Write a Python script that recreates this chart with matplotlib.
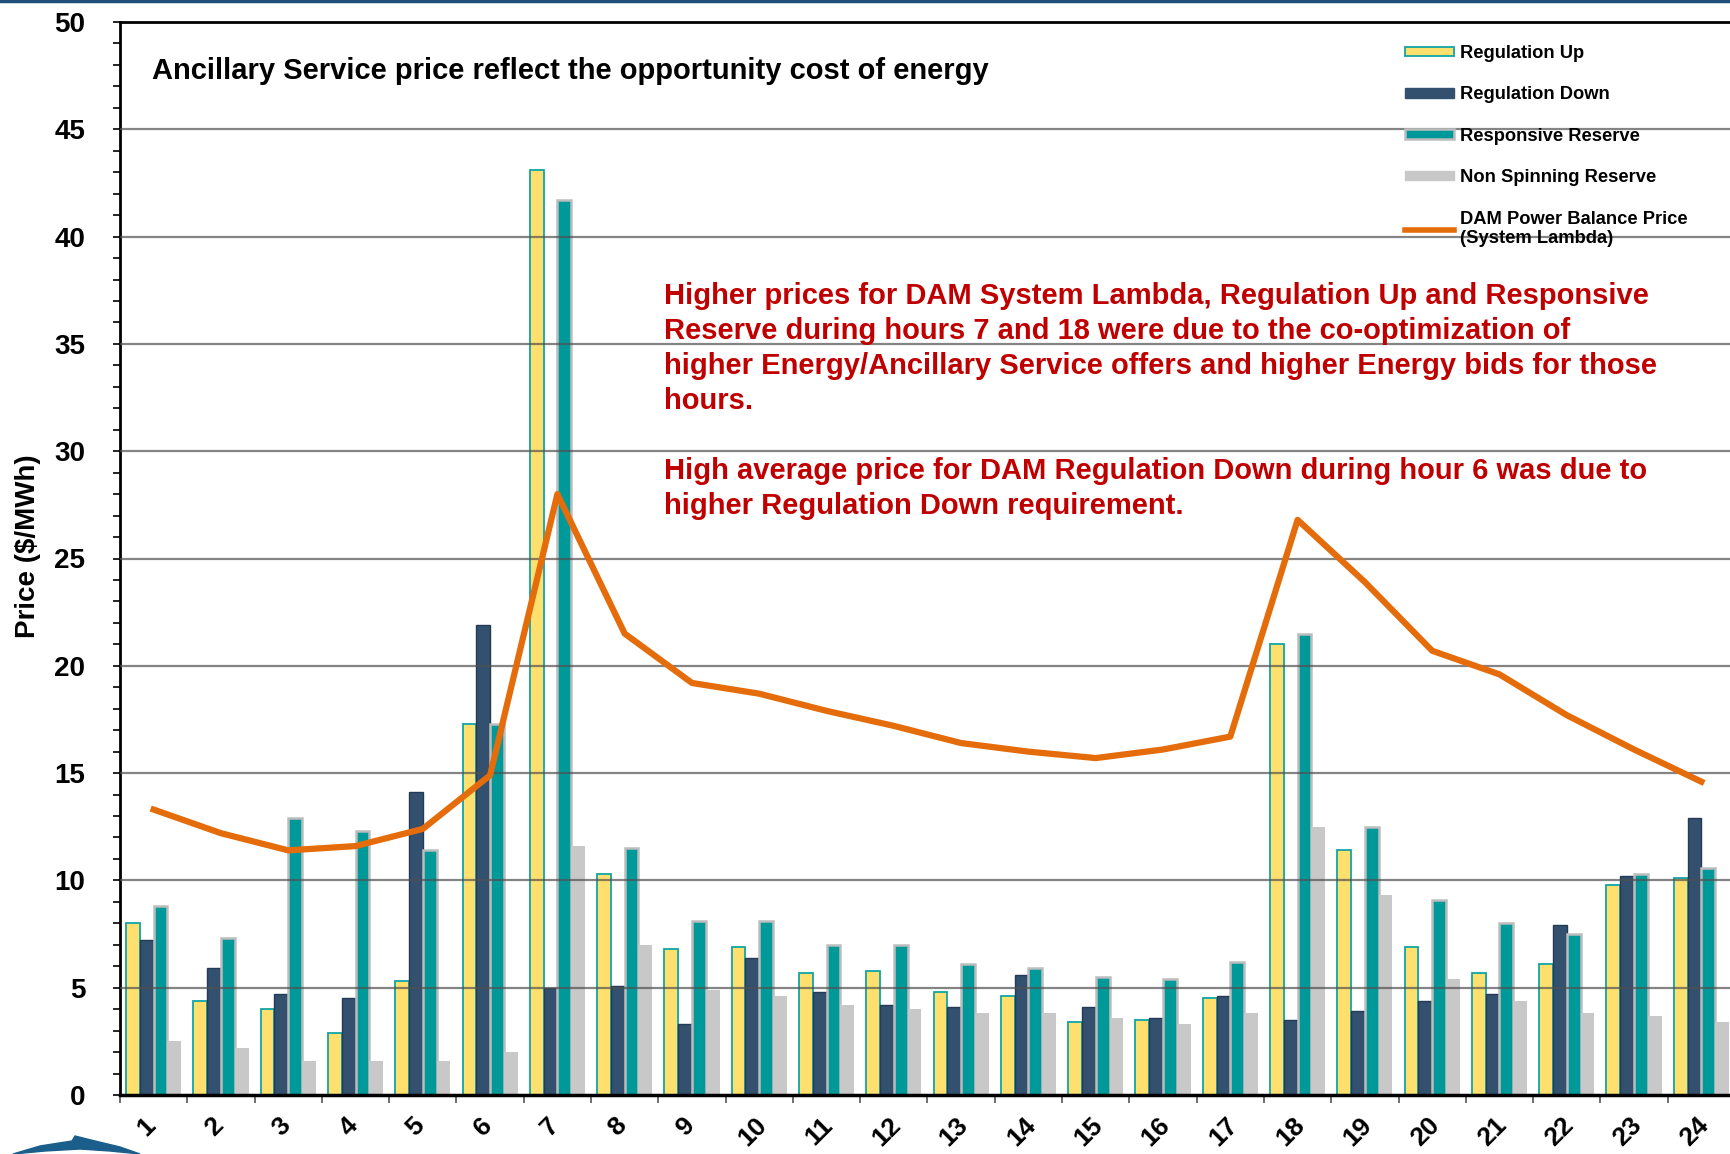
import numpy as np
import matplotlib
matplotlib.use('Agg')
import matplotlib.pyplot as plt
from matplotlib.ticker import MultipleLocator, FixedLocator
from matplotlib.lines import Line2D
from matplotlib.patches import Patch, Polygon
from matplotlib.transforms import ScaledTranslation

plt.rcParams['font.family'] = ['Liberation Sans', 'DejaVu Sans']
plt.rcParams['font.weight'] = 'bold'

hours = list(range(1, 25))
reg_up = [8.0, 4.4, 4.0, 2.9, 5.3, 17.3, 43.1, 10.3, 6.8, 6.9, 5.7, 5.8,
          4.8, 4.6, 3.4, 3.5, 4.5, 21.0, 11.4, 6.9, 5.7, 6.1, 9.8, 10.1]
reg_down = [7.2, 5.9, 4.7, 4.5, 14.1, 21.9, 5.0, 5.1, 3.3, 6.4, 4.8, 4.2,
            4.1, 5.6, 4.1, 3.6, 4.6, 3.5, 3.9, 4.4, 4.7, 7.9, 10.2, 12.9]
resp_res = [8.8, 7.3, 12.9, 12.3, 11.4, 17.3, 41.7, 11.5, 8.1, 8.1, 7.0, 7.0,
            6.1, 5.9, 5.5, 5.4, 6.2, 21.5, 12.5, 9.1, 8.0, 7.5, 10.3, 10.6]
non_spin = [2.5, 2.2, 1.6, 1.6, 1.6, 2.0, 11.6, 7.0, 4.9, 4.6, 4.2, 4.0,
            3.8, 3.8, 3.6, 3.3, 3.8, 12.5, 9.3, 5.4, 4.4, 3.8, 3.7, 3.4]
sys_lambda = [13.3, 12.2, 11.4, 11.6, 12.4, 14.9, 28.0, 21.5, 19.2, 18.7, 17.9, 17.2,
              16.4, 16.0, 15.7, 16.1, 16.7, 26.8, 23.9, 20.7, 19.6, 17.7, 16.1, 14.6]

labels = ["Regulation Up", "Regulation Down", "Responsive Reserve",
          "Non Spinning Reserve", "DAM Power Balance Price\n(System Lambda)"]

yellow, navy, teal, grey = '#FFE06E', '#33506F', '#009999', '#C8C8C8'
orange = '#E46C0A'

W, H = 1731, 1154
fig = plt.figure(figsize=(W/100, H/100), dpi=100)
ax = fig.add_axes([120/W, 59/H, 1615/W, 1073/H])

x = np.arange(len(hours))
w = 0.205
ax.bar(x - 1.5*w, reg_up, w, color=yellow, edgecolor='#10A5A5', linewidth=1.3, zorder=2)
ax.bar(x - 0.5*w, reg_down, w, color=navy, edgecolor='#243B56', linewidth=1.0, zorder=2)
ax.bar(x + 0.5*w, resp_res, w, color=teal, edgecolor='#BDBDBD', linewidth=1.8, zorder=2)
ax.bar(x + 1.5*w, non_spin, w, color=grey, linewidth=0, zorder=2)

for y in range(5, 50, 5):
    ax.axhline(y, color='#505050', lw=1.6, alpha=0.7, zorder=3)

ax.plot(x, sys_lambda, color=orange, lw=4.5, zorder=4)

ax.set_xlim(-0.5, 23.5)
ax.set_ylim(0, 50)

ax.yaxis.set_major_locator(MultipleLocator(5))
ax.yaxis.set_minor_locator(MultipleLocator(1))
ax.tick_params(axis='y', which='both', length=5, width=1.2, direction='out')
ax.tick_params(axis='y', which='major', labelsize=20, pad=20)

ax.set_xticks(x)
ax.set_xticklabels(hours, rotation=45, fontsize=19, fontweight='bold')
ax.xaxis.set_minor_locator(FixedLocator(np.arange(-0.5, 24, 1)))
ax.tick_params(axis='x', which='major', length=0, pad=13)
ax.tick_params(axis='x', which='minor', length=6, width=1.2, direction='out', color='#555555')
shift = ScaledTranslation(-7/100, 0, fig.dpi_scale_trans)
for lab in ax.get_xticklabels():
    lab.set_transform(lab.get_transform() + shift)

for s in ['left', 'top', 'bottom']:
    ax.spines[s].set_linewidth(2)
    ax.spines[s].set_color('black')
ax.spines['bottom'].set_linewidth(2.5)
ax.spines['right'].set_visible(False)

ax.text(0.02, 0.954, "Ancillary Service price reflect the opportunity cost of energy",
        transform=ax.transAxes, fontsize=21, fontweight='bold', va='center', ha='left')

note = ("Higher prices for DAM System Lambda, Regulation Up and Responsive\n"
        "Reserve during hours 7 and 18 were due to the co-optimization of\n"
        "higher Energy/Ancillary Service offers and higher Energy bids for those\n"
        "hours.\n"
        "\n"
        "High average price for DAM Regulation Down during hour 6 was due to\n"
        "higher Regulation Down requirement.")
ax.text(0.3366, 0.758, note, transform=ax.transAxes, fontsize=21, fontweight='bold',
        color='#C00000', va='top', ha='left', linespacing=1.32)

fig.text(28/W, 0.527, "Price ($/MWh)", rotation=90, fontsize=20, fontweight='bold',
         va='center', ha='center')

handles = [Patch(facecolor=yellow, edgecolor='#10A5A5', linewidth=1.3),
           Patch(facecolor=navy, edgecolor=navy),
           Patch(facecolor=teal, edgecolor='#BDBDBD', linewidth=1.8),
           Patch(facecolor=grey, edgecolor=grey),
           Line2D([0], [0], color=orange, lw=4)]
fig.legend(handles, labels, loc='upper left', bbox_to_anchor=(1405/W, 1 - 45/H),
           frameon=False, handlelength=2.7, handleheight=0.42,
           handletextpad=0.3, labelspacing=1.33, borderpad=0, borderaxespad=0,
           prop={'weight': 'bold', 'size': 13.2})

fig.add_artist(Line2D([0, 1], [0.9995, 0.9995], color='#1F4E79', lw=2.5,
                      transform=fig.transFigure))
swoosh = [(13, 1154), (40, 1146), (72, 1141), (75, 1136), (95, 1141),
          (120, 1147), (140, 1154), (110, 1151), (80, 1149), (45, 1151)]
fig.add_artist(Polygon([(px/W, 1 - py/H) for px, py in swoosh], closed=True,
                       color='#1B5E8C', transform=fig.transFigure))

fig.savefig('out.png', dpi=100)
